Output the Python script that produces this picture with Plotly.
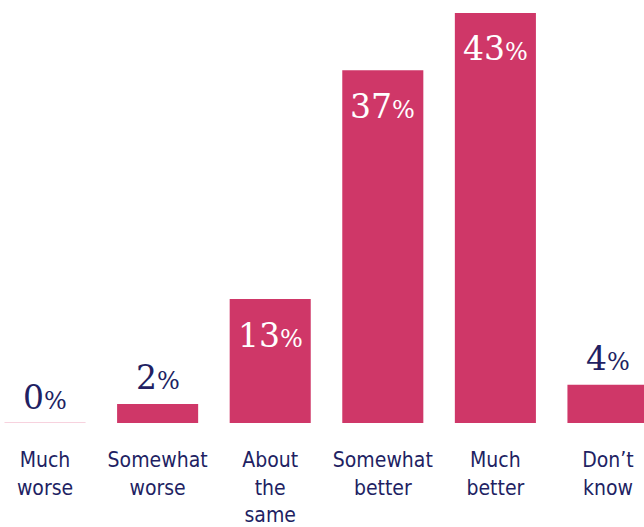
import plotly.graph_objects as go

categories = ["Much<br>worse", "Somewhat<br>worse", "About<br>the<br>same",
              "Somewhat<br>better", "Much<br>better", "Don\u2019t<br>know"]
values = [0, 2, 13, 37, 43, 4]
inside = [False, False, True, True, True, False]

PINK = "#cf3768"
NAVY = "#221f63"

x = list(range(len(categories)))

fig = go.Figure(go.Bar(
    x=x, y=values, marker=dict(color=PINK, line=dict(width=0)),
    hoverinfo="skip",
))

# baseline stub for the zero-value bar
for xi, v in zip(x, values):
    if v == 0:
        fig.add_shape(type="line", x0=xi - 0.36, x1=xi + 0.36, y0=0, y1=0,
                      xref="x", yref="y", line=dict(color="#f4c3d3", width=1.5))

# value labels
for xi, v, ins in zip(x, values, inside):
    fig.add_annotation(
        x=xi, y=v, xref="x", yref="y",
        text=f"{v}<span style='font-size:24px'>%</span>",
        showarrow=False, yanchor="middle",
        yshift=-36 if ins else 26,
        font=dict(family="DejaVu Serif", size=33,
                  color="white" if ins else NAVY),
    )

fig.update_layout(
    width=644, height=527,
    margin=dict(l=0, r=0, t=0, b=102),
    paper_bgcolor="white", plot_bgcolor="white",
    bargap=0.28, showlegend=False,
    xaxis=dict(range=[-0.4, 5.32], tickvals=x, ticktext=categories,
               showgrid=False, zeroline=False, showline=False,
               ticks="outside", ticklen=18, tickcolor="rgba(0,0,0,0)",
               tickfont=dict(family="DejaVu Sans Condensed", size=21, color=NAVY)),
    yaxis=dict(range=[0, 44.36], visible=False),
)

fig.write_html("out.html")
